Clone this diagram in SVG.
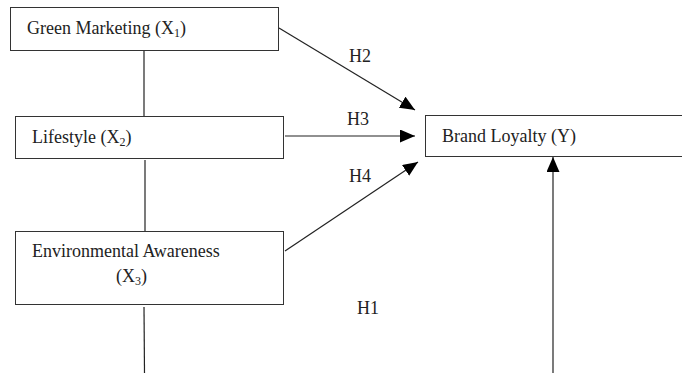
<svg xmlns="http://www.w3.org/2000/svg" width="682" height="373" viewBox="0 0 682 373">
<style>
.box{fill:#fff;stroke:#333;stroke-width:1}
.t{font-family:"Liberation Serif","Times New Roman",serif;font-size:18px;fill:#222}
.s{font-size:12px}
.c{stroke:#222;stroke-width:1.2;fill:none}
</style>
<defs>
<marker id="ahv" markerWidth="16" markerHeight="16" refX="15" refY="6.5" orient="auto" markerUnits="userSpaceOnUse">
<path d="M0,0 L15,6.5 L0,13 Z" fill="#000"/>
</marker>
</defs>
<rect width="682" height="373" fill="#fff"/>
<g id="connectors">
<line class="c" x1="144" y1="50" x2="144" y2="116"/>
<line class="c" x1="145" y1="160" x2="145" y2="231"/>
<line class="c" x1="144" y1="307" x2="144.5" y2="373"/>
<line class="c" x1="279" y1="28" x2="415" y2="110" marker-end="url(#ahv)"/>
<line class="c" x1="285" y1="136" x2="415" y2="136" marker-end="url(#ahv)"/>
<line class="c" x1="285" y1="251" x2="418" y2="162" marker-end="url(#ahv)"/>
<line class="c" x1="553" y1="373" x2="553" y2="157" marker-end="url(#ahv)"/>
<text class="t" x="349" y="62">H2</text>
<text class="t" x="347" y="125">H3</text>
<text class="t" x="349" y="182">H4</text>
<text class="t" x="357" y="314">H1</text>
</g>
<g id="green-marketing">
<rect class="box" x="10.5" y="7.5" width="268" height="43"/>
<text class="t" x="27" y="34">Green Marketing (X<tspan class="s" dy="3">1</tspan><tspan dy="-3">)</tspan></text>
</g>
<g id="lifestyle">
<rect class="box" x="15.5" y="116.5" width="268" height="42"/>
<text class="t" x="32" y="143">Lifestyle (X<tspan class="s" dy="3">2</tspan><tspan dy="-3">)</tspan></text>
</g>
<g id="environmental-awareness">
<rect class="box" x="15.5" y="231.5" width="268" height="73"/>
<text class="t" x="32" y="257">Environmental Awareness</text>
<text class="t" x="116" y="282">(X<tspan class="s" dy="3">3</tspan><tspan dy="-3">)</tspan></text>
</g>
<g id="brand-loyalty">
<rect class="box" x="425.5" y="115.5" width="262" height="41"/>
<text class="t" x="442" y="142">Brand Loyalty (Y)</text>
</g>
</svg>
